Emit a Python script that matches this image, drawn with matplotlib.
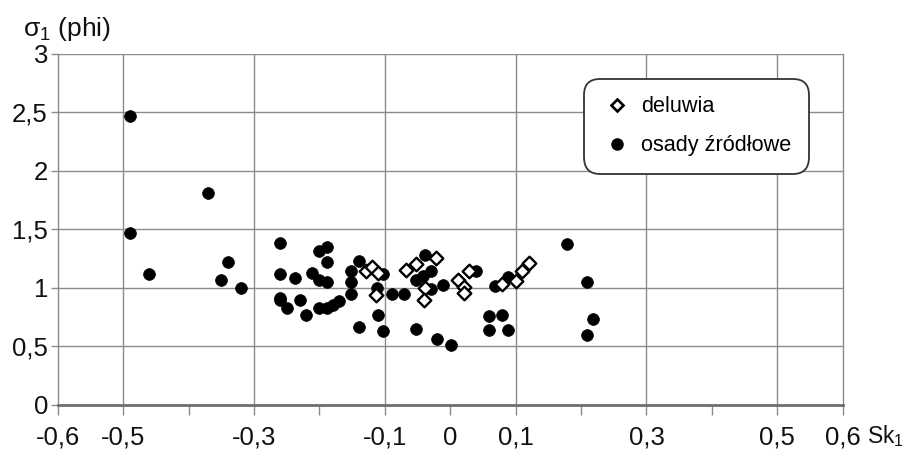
import matplotlib
matplotlib.use("Agg")
import matplotlib.pyplot as plt
from matplotlib.lines import Line2D

plt.rcParams['font.family'] = ['Liberation Sans', 'DejaVu Sans']
plt.rcParams['mathtext.default'] = 'regular'

# ---- data ----
deluwia_x = [-0.129, -0.119, -0.111, -0.114, -0.068, -0.052, -0.022, -0.039, -0.040,
             0.012, 0.029, 0.021, 0.021, 0.079, 0.101, 0.110, 0.120]
deluwia_y = [1.14, 1.18, 1.13, 0.94, 1.155, 1.20, 1.255, 1.00, 0.90,
             1.07, 1.14, 1.01, 0.96, 1.03, 1.06, 1.14, 1.21]

osady_x = [-0.490, -0.370, -0.490, -0.460, -0.340, -0.350, -0.320, -0.260, -0.260, -0.238,
           -0.260, -0.260, -0.250, -0.229, -0.220, -0.201, -0.188, -0.189, -0.212, -0.200,
           -0.188, -0.201, -0.189, -0.179, -0.170, -0.151, -0.151, -0.151, -0.139, -0.139,
           -0.112, -0.111, -0.102, -0.102, -0.089, -0.071, -0.052, -0.052, -0.039, -0.030,
           -0.042, -0.029, -0.011, -0.020, 0.001, 0.039, 0.069, 0.088, 0.060, 0.079,
           0.060, 0.088, 0.178, 0.209, 0.219, 0.209]
osady_y = [2.47, 1.81, 1.47, 1.12, 1.22, 1.07, 1.00, 1.38, 1.12, 1.085,
           0.915, 0.892, 0.827, 0.898, 0.770, 1.311, 1.348, 1.223, 1.127, 1.07,
           1.051, 0.827, 0.827, 0.855, 0.884, 1.141, 1.051, 0.946, 1.226, 0.669,
           1.00, 0.770, 0.635, 1.121, 0.946, 0.946, 1.07, 0.652, 1.277, 1.141,
           1.104, 0.994, 1.02, 0.567, 0.512, 1.141, 1.014, 1.09, 0.756, 0.770,
           0.637, 0.637, 1.376, 1.051, 0.737, 0.597]

x_ticks = [-0.6, -0.5, -0.4, -0.3, -0.2, -0.1, 0.0, 0.1, 0.2, 0.3, 0.4, 0.5, 0.6]
x_labelled = [-0.6, -0.5, -0.3, -0.1, 0.0, 0.1, 0.3, 0.5, 0.6]
x_grid = [-0.5, -0.3, -0.1, 0.1, 0.3, 0.5]
y_ticks = [0, 0.5, 1, 1.5, 2, 2.5, 3]

labels = ['deluwia', 'osady źródłowe']


def fmt(v):
    return ('%g' % round(v, 2)).replace('.', ',')


fig = plt.figure(figsize=(9.08, 4.5), dpi=100)
ax = fig.add_axes([57.7 / 908, 1 - 405 / 450, (842.7 - 57.7) / 908, (405 - 53.5) / 450])

ax.set_xlim(-0.6, 0.6)
ax.set_ylim(0, 3)

gcol = '#8c8c8c'
for y in y_ticks[1:]:
    ax.axhline(y, color=gcol, lw=1.0, zorder=1)
for x in x_grid:
    ax.axvline(x, color=gcol, lw=1.0, zorder=1)

for side in ['left', 'right']:
    ax.spines[side].set_color(gcol)
    ax.spines[side].set_linewidth(1.0)
ax.spines['top'].set_visible(False)
ax.spines['bottom'].set_color('#6e6e6e')
ax.spines['bottom'].set_linewidth(2.0)

ax.set_xticks(x_ticks)
ax.set_xticklabels([fmt(v) if any(abs(v - l) < 1e-9 for l in x_labelled) else '' for v in x_ticks])
ax.set_yticks(y_ticks)
ax.set_yticklabels([fmt(v) for v in y_ticks])
ax.tick_params(axis='x', direction='out', length=7, width=1, color=gcol, pad=8,
               labelsize=18.5, labelcolor='#111111')
ax.tick_params(axis='y', direction='out', length=5, width=1, color=gcol, pad=2,
               labelsize=18.5, labelcolor='#111111')

ax.scatter(osady_x, osady_y, s=72, marker='o', color='black', edgecolors='black',
           linewidths=0.5, zorder=3)
ax.scatter(deluwia_x, deluwia_y, s=48, marker='D', facecolor='white', edgecolors='black',
           linewidths=1.7, zorder=4)

handles = [Line2D([], [], ls='none', marker='D', markersize=6.5, markerfacecolor='white',
                  markeredgecolor='black', markeredgewidth=1.9),
           Line2D([], [], ls='none', marker='o', markersize=8, markerfacecolor='black',
                  markeredgecolor='black')]
leg = ax.legend(handles, labels, loc='upper left',
                bbox_to_anchor=((584 - 57.7) / 785, (405 - 79) / 351.5),
                frameon=True, fancybox=True, fontsize=15.6, borderpad=0.8,
                labelspacing=0.83, handletextpad=0.45, handlelength=1.4,
                borderaxespad=0)
frame = leg.get_frame()
frame.set_edgecolor('#333333')
frame.set_linewidth(1.3)
frame.set_facecolor('white')
frame.set_alpha(1)
frame.set_boxstyle('round', pad=0, rounding_size=0.75)

fig.text(23 / 908, 1 - 36 / 450, 'σ$_1$ (phi)', fontsize=19, color='#111111',
         va='baseline', ha='left')
fig.text(867 / 908, 1 - 443 / 450, 'Sk$_1$', fontsize=16.5, color='#111111',
         va='baseline', ha='left')

fig.savefig('out.png', dpi=100)
